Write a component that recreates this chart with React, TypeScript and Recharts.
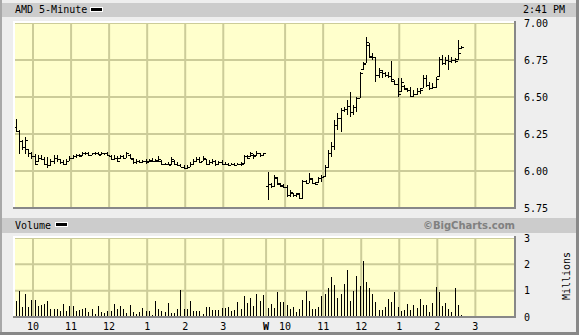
import React from "react";
import { Bar, CartesianGrid, ComposedChart, XAxis, YAxis } from "recharts";

// AMD 5-minute bars, two sessions. Day 1: 9:30 - 4:00, day 2: 9:30 - 2:40
const day1High = [
  6.354, 6.275, 6.207, 6.23, 6.151, 6.128, 6.117, 6.106, 6.106, 6.095,
  6.095, 6.084, 6.106, 6.106, 6.084, 6.072, 6.079, 6.101, 6.106, 6.117,
  6.117, 6.128, 6.128, 6.128, 6.124, 6.128, 6.128, 6.128, 6.124, 6.128,
  6.11, 6.106, 6.101, 6.11, 6.11, 6.128, 6.117, 6.088, 6.079, 6.072,
  6.072, 6.084, 6.084, 6.088, 6.084, 6.101, 6.072, 6.056, 6.061, 6.095,
  6.072, 6.061, 6.05, 6.038, 6.043, 6.061, 6.079, 6.095, 6.095, 6.101,
  6.084, 6.072, 6.084, 6.072, 6.065, 6.072, 6.061, 6.056, 6.056, 6.056,
  6.056, 6.061, 6.11, 6.106, 6.128, 6.117, 6.133, 6.124, 6.124,
];
const day1Low = [
  6.264, 6.117, 6.14, 6.117, 6.095, 6.084, 6.038, 6.061, 6.072, 6.038,
  6.02, 6.034, 6.05, 6.061, 6.05, 6.043, 6.038, 6.065, 6.079, 6.088,
  6.095, 6.101, 6.106, 6.101, 6.106, 6.11, 6.106, 6.11, 6.106, 6.101,
  6.072, 6.072, 6.061, 6.084, 6.084, 6.088, 6.079, 6.05, 6.05, 6.056,
  6.056, 6.05, 6.061, 6.061, 6.061, 6.061, 6.038, 6.038, 6.038, 6.043,
  6.038, 6.034, 6.027, 6.016, 6.011, 6.027, 6.043, 6.061, 6.056, 6.065,
  6.038, 6.038, 6.05, 6.034, 6.043, 6.043, 6.038, 6.034, 6.038, 6.034,
  6.038, 6.034, 6.05, 6.084, 6.095, 6.084, 6.101, 6.095, 6.101,
];
const day1Open = [
  6.3, 6.27, 6.2, 6.16, 6.15, 6.12, 6.1, 6.065, 6.09, 6.08,
  6.05, 6.04, 6.07, 6.09, 6.08, 6.06, 6.05, 6.07, 6.09, 6.1,
  6.11, 6.105, 6.12, 6.12, 6.11, 6.12, 6.12, 6.115, 6.12, 6.12,
  6.1, 6.08, 6.09, 6.09, 6.1, 6.09, 6.11, 6.08, 6.06, 6.07,
  6.06, 6.07, 6.065, 6.07, 6.07, 6.07, 6.07, 6.05, 6.05, 6.045,
  6.07, 6.05, 6.04, 6.03, 6.02, 6.03, 6.05, 6.07, 6.08, 6.07,
  6.08, 6.05, 6.06, 6.07, 6.05, 6.06, 6.05, 6.05, 6.04, 6.05,
  6.04, 6.05, 6.055, 6.1, 6.1, 6.11, 6.105, 6.12, 6.11,
];
const day1Close = [
  6.27, 6.2, 6.16, 6.21, 6.12, 6.1, 6.05, 6.09, 6.08, 6.05,
  6.04, 6.07, 6.09, 6.08, 6.06, 6.05, 6.07, 6.09, 6.1, 6.11,
  6.1, 6.12, 6.12, 6.11, 6.12, 6.12, 6.11, 6.12, 6.12, 6.11,
  6.08, 6.09, 6.07, 6.1, 6.09, 6.12, 6.09, 6.06, 6.07, 6.06,
  6.07, 6.06, 6.075, 6.07, 6.075, 6.08, 6.05, 6.05, 6.04, 6.08,
  6.05, 6.04, 6.03, 6.02, 6.03, 6.05, 6.07, 6.08, 6.06, 6.09,
  6.05, 6.06, 6.07, 6.05, 6.06, 6.05, 6.05, 6.04, 6.05, 6.04,
  6.05, 6.05, 6.1, 6.09, 6.12, 6.1, 6.12, 6.11, 6.12,
];
const day1Volume = [
  0.62, 0.97, 0.39, 0.86, 0.39, 0.66, 0.66, 0.43, 0.45, 0.51,
  0.62, 0.29, 0.31, 0.31, 0.23, 0.51, 0.23, 0.43, 0.43, 0.23,
  0.26, 0.31, 0.34, 0.19, 0.31, 0.12, 0.43, 0.19, 0.17, 0.23,
  0.23, 0.51, 0.31, 0.43, 0.31, 0.17, 0.47, 0.19, 0.12, 0.19,
  0.34, 0.23, 0.23, 0.09, 0.62, 0.31, 0.23, 0.19, 0.55, 0.17,
  0.17, 0.29, 1.01, 0.31, 0.31, 0.62, 0.23, 0.23, 0.23, 0.12,
  0.39, 0.39, 0.26, 0.26, 0.26, 0.34, 0.36, 0.39, 0.23, 0.26,
  0.58, 0.31, 0.78, 0.55, 0.74, 0.43, 0.86, 0.62, 0.82,
];

const day2High = [
  5.995, 5.917, 5.973, 5.962, 5.917, 5.912, 5.905, 5.872, 5.854, 5.854,
  5.849, 5.939, 5.939, 5.989, 5.95, 5.928, 5.962, 5.973, 6.04, 6.142,
  6.198, 6.344, 6.39, 6.423, 6.435, 6.48, 6.536, 6.446, 6.502, 6.671,
  6.739, 6.908, 6.863, 6.795, 6.773, 6.694, 6.68, 6.671, 6.671, 6.745,
  6.615, 6.626, 6.626, 6.581, 6.559, 6.565, 6.547, 6.559, 6.559, 6.649,
  6.649, 6.604, 6.597, 6.637, 6.773, 6.784, 6.773, 6.784, 6.768, 6.761,
  6.885, 6.844,
];
const day2Low = [
  5.804, 5.883, 5.894, 5.905, 5.894, 5.883, 5.827, 5.827, 5.822, 5.827,
  5.808, 5.808, 5.912, 5.917, 5.912, 5.905, 5.921, 5.928, 5.962, 6.018,
  6.097, 6.142, 6.277, 6.266, 6.401, 6.378, 6.367, 6.378, 6.401, 6.491,
  6.682, 6.727, 6.761, 6.75, 6.604, 6.626, 6.63, 6.637, 6.626, 6.6,
  6.581, 6.502, 6.536, 6.547, 6.536, 6.502, 6.502, 6.513, 6.52, 6.559,
  6.57, 6.547, 6.552, 6.559, 6.637, 6.716, 6.716, 6.682, 6.727, 6.732,
  6.75, 6.822,
];
const day2Open = [
  5.9, 5.91, 5.9, 5.95, 5.915, 5.905, 5.89, 5.84, 5.85, 5.84,
  5.845, 5.82, 5.93, 5.92, 5.945, 5.92, 5.925, 5.95, 5.965, 6.03,
  6.12, 6.17, 6.31, 6.36, 6.41, 6.42, 6.44, 6.4, 6.43, 6.495,
  6.69, 6.73, 6.85, 6.78, 6.77, 6.65, 6.67, 6.66, 6.65, 6.64,
  6.61, 6.59, 6.54, 6.575, 6.555, 6.55, 6.51, 6.52, 6.54, 6.56,
  6.63, 6.58, 6.56, 6.57, 6.64, 6.76, 6.73, 6.75, 6.74, 6.75,
  6.755, 6.83,
];
const day2Close = [
  5.91, 5.9, 5.96, 5.92, 5.9, 5.89, 5.84, 5.86, 5.84, 5.85,
  5.82, 5.93, 5.92, 5.95, 5.92, 5.915, 5.95, 5.96, 6.03, 6.12,
  6.17, 6.31, 6.36, 6.41, 6.42, 6.44, 6.4, 6.43, 6.49, 6.66,
  6.72, 6.87, 6.77, 6.77, 6.65, 6.68, 6.66, 6.65, 6.64, 6.62,
  6.59, 6.52, 6.6, 6.56, 6.545, 6.51, 6.52, 6.54, 6.55, 6.63,
  6.58, 6.56, 6.57, 6.62, 6.76, 6.73, 6.75, 6.74, 6.75, 6.74,
  6.8, 6.84,
];
const day2Volume = [
  0.34, 0.51, 0.34, 0.94, 0.58, 0.58, 0.47, 0.29, 0.39, 0.19,
  0.29, 0.66, 0.97, 0.62, 0.31, 0.31, 0.39, 0.78, 0.86, 1.09,
  1.52, 1.21, 0.74, 0.86, 1.25, 1.79, 0.62, 0.97, 1.56, 1.17,
  2.14, 1.32, 1.09, 0.86, 0.58, 0.27, 0.27, 0.39, 0.7, 0.58,
  0.94, 0.39, 0.23, 0.27, 0.51, 0.27, 0.47, 0.35, 0.7, 0.47,
  0.47, 0.19, 0.55, 1.13, 0.94, 0.43, 0.55, 0.31, 0.19, 1.09,
  0.47, 0.08,
];

// x is measured in 5-minute slots from the first open
const timeTicks = [6, 18, 30, 42, 54, 66, 79.5, 85.5, 97.5, 109.5, 121.5, 133.5, 145.5];
const timeLabels = ["10", "11", "12", "1", "2", "3", "W", "10", "11", "12", "1", "2", "3"];
const priceTicks = [5.75, 6, 6.25, 6.5, 6.75, 7];
const volumeTicks = [0, 1, 2, 3];

const bars = [
  ...day1High.map((h, k) => ({ t: k + 0.5, h, l: day1Low[k], o: day1Open[k], c: day1Close[k], v: day1Volume[k] })),
  ...day2High.map((h, j) => ({ t: 80 + j, h, l: day2Low[j], o: day2Open[j], c: day2Close[j], v: day2Volume[j] })),
].map((b) => ({ ...b, range: [b.l, b.h] }));

const mono = "'DejaVu Sans Mono', monospace";
const gridColor = "#cccc99";
const plotFill = "#ffffcc";

const OhlcBar = (props: any) => {
  const { x, y, width, height, payload } = props;
  if (x == null || y == null) return null;
  const cx = Math.round(x + width / 2);
  const span = payload.h - payload.l || 1;
  const top = Math.round(y);
  const bottom = Math.max(Math.round(y + height), top + 1);
  const yo = Math.round(y + ((payload.h - payload.o) / span) * height);
  const yc = Math.round(y + ((payload.h - payload.c) / span) * height);
  return (
    <g fill="#000">
      <rect x={cx} y={top} width={1} height={bottom - top} />
      <rect x={cx - 2} y={yo} width={2} height={1} />
      <rect x={cx + 1} y={yc} width={2} height={1} />
    </g>
  );
};

const VolumeBar = (props: any) => {
  const { x, y, width, height } = props;
  if (x == null || y == null) return null;
  const cx = Math.round(x + width / 2);
  const top = Math.round(y);
  return <rect x={cx} y={top} width={1} height={Math.round(y + height) - top} fill="#000" />;
};

const TimeTick = (props: any) => {
  const { x, y, payload } = props;
  const label = timeLabels[timeTicks.indexOf(payload.value)];
  return (
    <text x={x} y={y} dy="0.71em" textAnchor="middle" fontFamily={mono} fontSize={10}
      fontWeight={label === "W" ? "bold" : "normal"} fill="#000">
      {label}
    </text>
  );
};

const box = (left: number, top: number, width: number, height: number, background: string): React.CSSProperties => ({
  position: "absolute", left, top, width, height, background,
});

const Frame = ({ top, bottom }: { top: number; bottom: number }) => (
  <>
    <div style={box(13, top - 2, 503, 2, "#ffffff")} />
    <div style={box(13, top - 2, 2, bottom - top + 2, "#ffffff")} />
    <div style={box(13, bottom - 1, 503, 2, "#888888")} />
    <div style={box(514, top - 2, 2, bottom - top + 3, "#888888")} />
  </>
);

export default function App() {
  const tickStyle = { fontFamily: mono, fontSize: 10, fill: "#000" };
  return (
    <div style={{ position: "absolute", left: 0, top: 0, width: 579, height: 335, background: "#eeeeee", overflow: "hidden" }}>
      <div style={box(0, 0, 2, 335, "#a8a8a8")} />
      <div style={box(576, 0, 3, 335, "#888888")} />
      <div style={box(0, 332, 579, 3, "#888888")} />

      <div style={box(2, 3, 574, 14, "#cccccc")} />
      <div style={{ position: "absolute", left: 15, top: 3, height: 14, lineHeight: "14px", fontFamily: mono, fontSize: 10 }}>AMD 5-Minute</div>
      <div style={{ ...box(90, 7, 13, 5, "#000"), border: "1px solid #fff", boxSizing: "border-box" }} />
      <div style={{ position: "absolute", left: 523, top: 3, height: 14, lineHeight: "14px", fontFamily: mono, fontSize: 10 }}>2:41 PM</div>

      <div style={box(2, 218, 574, 15, "#cccccc")} />
      <div style={{ position: "absolute", left: 15, top: 218, height: 15, lineHeight: "15px", fontFamily: mono, fontSize: 10 }}>Volume</div>
      <div style={{ ...box(55, 222, 13, 5, "#000"), border: "1px solid #fff", boxSizing: "border-box" }} />
      <div style={{ position: "absolute", right: 64, top: 218, height: 15, lineHeight: "15px", fontFamily: "'DejaVu Sans', sans-serif", fontWeight: "bold", fontSize: 10, color: "#808080" }}>©BigCharts.com</div>

      <div style={{ position: "absolute", left: 0, top: 0 }}>
        <ComposedChart width={579} height={215} data={bars} margin={{ top: 23, right: 0, left: 14, bottom: 7 }}>
          <CartesianGrid fill={plotFill} stroke={gridColor} strokeWidth={2} />
          <XAxis dataKey="t" type="number" domain={[0, 158]} ticks={timeTicks} hide />
          <YAxis orientation="right" domain={[5.75, 7]} ticks={priceTicks} width={64} tickSize={0} tickMargin={9}
            axisLine={false} tickLine={false} tick={tickStyle} tickFormatter={(v: number) => v.toFixed(2)} />
          <Bar dataKey="range" barSize={3} shape={<OhlcBar />} isAnimationActive={false} />
        </ComposedChart>
      </div>

      <div style={{ position: "absolute", left: 0, top: 215 }}>
        <ComposedChart width={579} height={120} data={bars} margin={{ top: 23, right: 0, left: 14, bottom: 4 }}>
          <CartesianGrid fill={plotFill} stroke={gridColor} strokeWidth={2} />
          <XAxis dataKey="t" type="number" domain={[0, 158]} ticks={timeTicks} interval={0} height={14}
            tickSize={0} tickMargin={6} axisLine={false} tickLine={false} tick={<TimeTick />} />
          <YAxis orientation="right" domain={[0, 3]} ticks={volumeTicks} width={64} tickSize={0} tickMargin={9}
            axisLine={false} tickLine={false} tick={tickStyle} />
          <Bar dataKey="v" barSize={1} shape={<VolumeBar />} isAnimationActive={false} />
        </ComposedChart>
      </div>

      <Frame top={23} bottom={208} />
      <Frame top={238} bottom={317} />

      <div style={{ position: "absolute", left: 566, top: 276, fontFamily: mono, fontSize: 10, transform: "translate(-50%, -50%) rotate(-90deg)", whiteSpace: "nowrap" }}>Millions</div>
    </div>
  );
}
